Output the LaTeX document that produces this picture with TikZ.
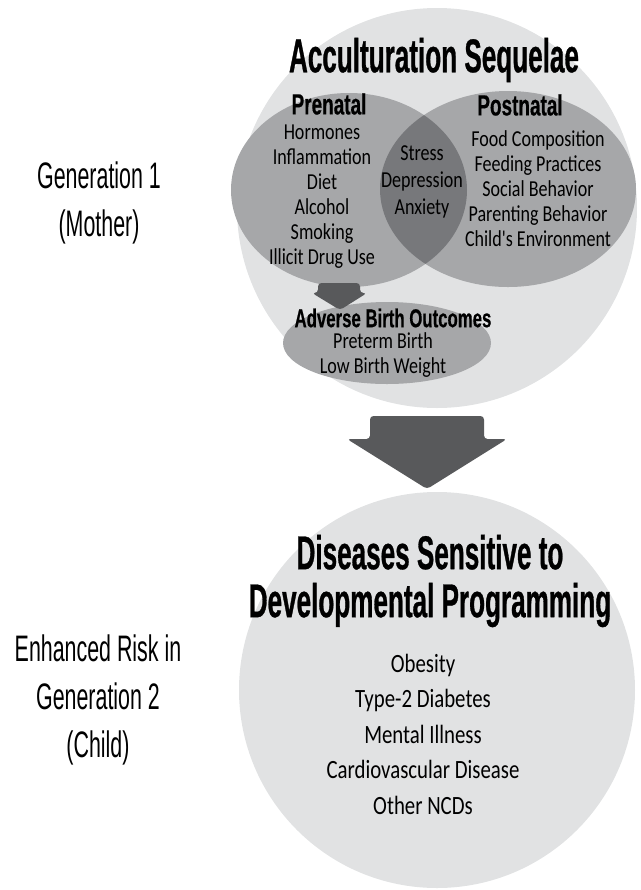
\documentclass[tikz,border=0pt]{standalone}
\usepackage{fontspec}
\setmainfont{Carlito}
\newfontfamily\headfont[FakeStretch=0.55,FakeBold=0.6]{Liberation Sans}
\newfontfamily\subfont[FakeStretch=0.65,FakeBold=0.4]{Liberation Sans}
\newfontfamily\genfont[FakeStretch=0.58]{Liberation Sans}
\newfontfamily\listfont[FakeStretch=0.79]{Carlito}

\definecolor{bubble}{HTML}{E1E2E3}
\definecolor{lobe}{HTML}{A6A7A9}
\definecolor{overlap}{HTML}{77787B}
\definecolor{arrowgray}{HTML}{58595B}

\tikzset{
	bigtitle/.style={font=\headfont\bfseries\fontsize{27}{27.3}\selectfont, align=center, inner sep=0pt},
	subtitle/.style={font=\subfont\bfseries\fontsize{16.6}{18}\selectfont, inner sep=0pt},
	items/.style={font=\listfont\fontsize{13}{14.2}\selectfont, align=center, inner sep=0pt},
	gen/.style={font=\genfont\fontsize{21}{27.5}\selectfont, align=center, inner sep=0pt},
	blockarrow/.style={fill=arrowgray, rounded corners=2pt}
}

\begin{document}
\begin{tikzpicture}[x=0.02cm, y=-0.02cm]
		\useasboundingbox (0,0) rectangle (640,890);
		
		% the two generations
		\fill[bubble] (437,208) circle[radius=200];
		\fill[bubble] (437,690) circle[radius=198];
		
		% venn of pre- and postnatal
		\fill[lobe] (349,190) ellipse[x radius=118, y radius=97];
		\fill[lobe] (508,189) ellipse[x radius=128, y radius=98];
		\begin{scope}
			\clip (349,190) ellipse[x radius=118, y radius=97];
			\fill[overlap] (508,189) ellipse[x radius=128, y radius=98];
		\end{scope}
		\fill[lobe] (387,343) ellipse[x radius=104, y radius=41];
		
		% arrows
		\fill[blockarrow] (318,283) -- (360,283) -- (360,293) -- (367,293) -- (340,310)
			-- (312,293) -- (318,293) -- cycle;
		\fill[blockarrow] (370,416) -- (484,416) -- (484,439) -- (507,439) -- (427,489)
			-- (347,439) -- (370,439) -- cycle;
		
		\node[bigtitle] (sequelae) at (434,60) {Acculturation Sequelae};
		\node[subtitle] (prenatal) at (329,104) {Prenatal};
		\node[subtitle] (postnatal) at (520,105) {Postnatal};
		\node[items] (prelist) at (322,197) {Hormones\\Inflammation\\Diet\\Alcohol\\Smoking\\Illicit Drug Use};
		\node[items, font=\listfont\fontsize{13}{15.4}\selectfont] (shared) at (422,182) {Stress\\Depression\\Anxiety};
		\node[items] (postlist) at (538,189) {Food Composition\\Feeding Practices\\Social Behavior\\Parenting Behavior\\Child's Environment};
		\node[subtitle, font=\subfont\bfseries\fontsize{14.7}{18}\selectfont] (adverse) at (393,318) {Adverse Birth Outcomes};
		\node[items] (birthlist) at (383,355) {Preterm Birth\\Low Birth Weight};
		
		\node[bigtitle] (diseases) at (430,581) {Diseases Sensitive to\\Developmental Programming};
		\node[items, font=\listfont\fontsize{15}{20.2}\selectfont] (diseaselist) at (423,734) {Obesity\\Type-2 Diabetes\\Mental Illness\\Cardiovascular Disease\\Other NCDs};
		
		\node[gen] (gen1) at (99,203) {Generation 1\\(Mother)};
		\node[gen] (gen2) at (98,700) {Enhanced Risk in\\Generation 2\\(Child)};
	\end{tikzpicture}
\end{document}
